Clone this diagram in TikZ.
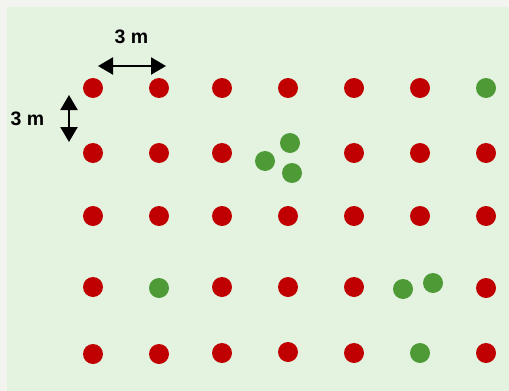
\documentclass[tikz,border=0pt]{standalone}
\usepackage{fontspec}
\setmainfont{Liberation Sans}
\usetikzlibrary{arrows.meta}
\definecolor{outerbg}{HTML}{F3F3EF}
\definecolor{panel}{HTML}{E4F2E0}
\definecolor{dotred}{HTML}{C00000}
\definecolor{dotgreen}{HTML}{4E9A36}
\tikzset{
  reddot/.style={circle,fill=dotred,minimum size=20pt,inner sep=0pt},
  greendot/.style={circle,fill=dotgreen,minimum size=20pt,inner sep=0pt},
  dimarrow/.style={line width=2.2pt,{Triangle[length=15pt,width=17pt]}-{Triangle[length=15pt,width=17pt]}},
  dimlabel/.style={font=\fontsize{19.5}{21}\selectfont\bfseries,inner sep=0pt}
}
\begin{document}
\begin{tikzpicture}[x=1pt,y=-1pt]
\fill[outerbg] (0,0) rectangle (509,391);
\fill[panel] (7,7) rectangle (509,391);
\useasboundingbox (0,0) rectangle (509,391);
% row 1
\node[reddot] (r11) at (93,88) {};
\node[reddot] (r12) at (159,88) {};
\node[reddot] (r13) at (222,88) {};
\node[reddot] (r14) at (288,88) {};
\node[reddot] (r15) at (354,88) {};
\node[reddot] (r16) at (420,88) {};
\node[greendot] (g17) at (486,88) {};
% row 2
\node[reddot] (r21) at (93,153) {};
\node[reddot] (r22) at (159,153) {};
\node[reddot] (r23) at (222,153) {};
\node[greendot] (g24a) at (290,143) {};
\node[greendot] (g24b) at (265,161) {};
\node[greendot] (g24c) at (292,173) {};
\node[reddot] (r25) at (354,153) {};
\node[reddot] (r26) at (420,153) {};
\node[reddot] (r27) at (486,153) {};
% row 3
\node[reddot] (r31) at (93,216) {};
\node[reddot] (r32) at (159,216) {};
\node[reddot] (r33) at (222,216) {};
\node[reddot] (r34) at (288,216) {};
\node[reddot] (r35) at (354,216) {};
\node[reddot] (r36) at (420,216) {};
\node[reddot] (r37) at (486,216) {};
% row 4
\node[reddot] (r41) at (93,287) {};
\node[greendot] (g42) at (159,288) {};
\node[reddot] (r43) at (222,287) {};
\node[reddot] (r44) at (288,287) {};
\node[reddot] (r45) at (354,287) {};
\node[greendot] (g46a) at (403,289) {};
\node[greendot] (g46b) at (433,283) {};
\node[reddot] (r47) at (486,288) {};
% row 5
\node[reddot] (r51) at (93,354) {};
\node[reddot] (r52) at (159,354) {};
\node[reddot] (r53) at (222,353) {};
\node[reddot] (r54) at (288,352) {};
\node[reddot] (r55) at (354,353) {};
\node[greendot] (g56) at (420,353) {};
\node[reddot] (r57) at (486,353) {};
% dimensions
\coordinate (hA) at (98,66);
\coordinate (hB) at (166,66);
\draw[dimarrow] (hA) -- (hB);
\node[dimlabel] (hlab) at (131.5,37) {3 m};
\coordinate (vA) at (69,95);
\coordinate (vB) at (69,142);
\draw[dimarrow] (vA) -- (vB);
\node[dimlabel] (vlab) at (27.5,119) {3 m};
\end{tikzpicture}
\end{document}
